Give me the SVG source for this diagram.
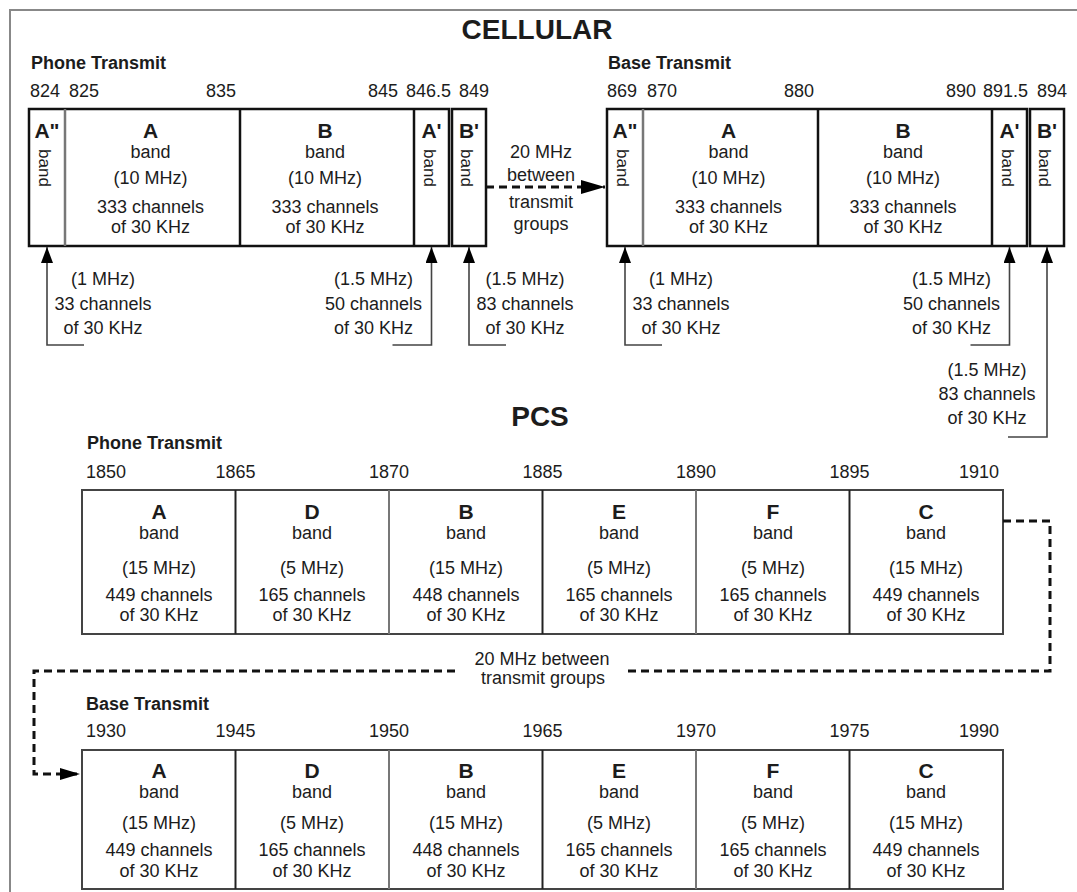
<svg xmlns="http://www.w3.org/2000/svg" width="1077" height="892" viewBox="0 0 1077 892">
<defs>
<style>
text{font-family:"Liberation Sans",Arial,Helvetica,sans-serif;fill:#1c1c1c}
.r{font-size:18px}
.m{font-size:18px;text-anchor:middle}
.h{font-size:18px;font-weight:bold}
.L{font-size:21px;font-weight:bold;text-anchor:middle}
.title{font-size:28px;font-weight:bold;text-anchor:middle}
.vb{font-size:17px;text-anchor:middle}
.e{text-anchor:end}
.box{fill:#fff;stroke:#111;stroke-width:2.5}
.dv{stroke:#111;stroke-width:2.5}
.dvg{stroke:#777;stroke-width:2.5}
.pbox{fill:#fff;stroke:#444;stroke-width:2}
.pdv{stroke:#222;stroke-width:2}
.pdvg{stroke:#777;stroke-width:2}
.lead{fill:none;stroke:#444;stroke-width:1.6}
.dash{fill:none;stroke:#111;stroke-width:3;stroke-dasharray:8 5}
.frame{fill:none;stroke:#888;stroke-width:2}
</style>
<marker id="up" markerUnits="userSpaceOnUse" markerWidth="17" markerHeight="12" refX="16" refY="6" orient="auto"><path d="M0,0 L16,6 L0,12 z" fill="#000"/></marker>
<marker id="ah" markerUnits="userSpaceOnUse" markerWidth="25" markerHeight="14" refX="24" refY="7" orient="auto"><path d="M0,0 L24,7 L0,14 z" fill="#000"/></marker>
<marker id="ah2" markerUnits="userSpaceOnUse" markerWidth="21" markerHeight="12" refX="20" refY="6" orient="auto"><path d="M0,0 L20,6 L0,12 z" fill="#000"/></marker>
</defs>
<rect width="1077" height="892" fill="#fff"/>
<path class="frame" d="M10,892 V10 H1077"/>

<text class="title" x="537" y="39">CELLULAR</text>
<text class="h" x="31" y="69">Phone Transmit</text>
<text class="h" x="608" y="69">Base Transmit</text>
<g id="cell-freq" class="r">
<text x="30" y="97">824</text><text x="69" y="97">825</text><text x="206" y="97">835</text>
<text x="368" y="97">845</text><text x="406" y="97">846.5</text><text x="459" y="97">849</text>
<text x="607" y="97">869</text><text x="647" y="97">870</text><text x="784" y="97">880</text>
<text x="946" y="97">890</text><text x="983" y="97">891.5</text><text x="1037" y="97">894</text>
</g>

<g id="cell-phone">
<rect class="box" x="29" y="109" width="420" height="137"/>
<rect class="box" x="452" y="109" width="34" height="137"/>
<line class="dvg" x1="65" y1="109" x2="65" y2="246"/>
<line class="dv" x1="240" y1="109" x2="240" y2="246"/>
<line class="dv" x1="414" y1="109" x2="414" y2="246"/>
<text class="L" x="47" y="138">A"</text>
<text class="vb" transform="translate(39,168) rotate(90)">band</text>
<text class="L" x="150.5" y="138">A</text>
<text class="m" x="150.5" y="158">band</text>
<text class="m" x="150.5" y="184">(10 MHz)</text>
<text class="m" x="150.5" y="213">333 channels</text>
<text class="m" x="150.5" y="233">of 30 KHz</text>
<text class="L" x="325" y="138">B</text>
<text class="m" x="325" y="158">band</text>
<text class="m" x="325" y="184">(10 MHz)</text>
<text class="m" x="325" y="213">333 channels</text>
<text class="m" x="325" y="233">of 30 KHz</text>
<text class="L" x="431.5" y="138">A'</text>
<text class="vb" transform="translate(423.5,168) rotate(90)">band</text>
<text class="L" x="469" y="138">B'</text>
<text class="vb" transform="translate(461,168) rotate(90)">band</text>
</g>

<g id="cell-base">
<rect class="box" x="607" y="109" width="420" height="137"/>
<rect class="box" x="1030" y="109" width="34" height="137"/>
<line class="dvg" x1="643" y1="109" x2="643" y2="246"/>
<line class="dv" x1="818" y1="109" x2="818" y2="246"/>
<line class="dv" x1="992" y1="109" x2="992" y2="246"/>
<text class="L" x="625" y="138">A"</text>
<text class="vb" transform="translate(617,168) rotate(90)">band</text>
<text class="L" x="728.5" y="138">A</text>
<text class="m" x="728.5" y="158">band</text>
<text class="m" x="728.5" y="184">(10 MHz)</text>
<text class="m" x="728.5" y="213">333 channels</text>
<text class="m" x="728.5" y="233">of 30 KHz</text>
<text class="L" x="903" y="138">B</text>
<text class="m" x="903" y="158">band</text>
<text class="m" x="903" y="184">(10 MHz)</text>
<text class="m" x="903" y="213">333 channels</text>
<text class="m" x="903" y="233">of 30 KHz</text>
<text class="L" x="1009.5" y="138">A'</text>
<text class="vb" transform="translate(1001.5,168) rotate(90)">band</text>
<text class="L" x="1047" y="138">B'</text>
<text class="vb" transform="translate(1039,168) rotate(90)">band</text>
</g>

<g id="cell-gap-label">
<text class="m" x="541" y="158">20 MHz</text>
<text class="m" x="541" y="181">between</text>
<text class="m" x="541" y="208">transmit</text>
<text class="m" x="541" y="230">groups</text>
</g>

<g id="cell-notes">
<text class="m" x="103" y="285">(1 MHz)</text><text class="m" x="103" y="310">33 channels</text><text class="m" x="103" y="334">of 30 KHz</text>
<text class="m" x="373.5" y="285">(1.5 MHz)</text><text class="m" x="373.5" y="310">50 channels</text><text class="m" x="373.5" y="334">of 30 KHz</text>
<text class="m" x="525" y="285">(1.5 MHz)</text><text class="m" x="525" y="310">83 channels</text><text class="m" x="525" y="334">of 30 KHz</text>
<text class="m" x="681" y="285">(1 MHz)</text><text class="m" x="681" y="310">33 channels</text><text class="m" x="681" y="334">of 30 KHz</text>
<text class="m" x="951.5" y="285">(1.5 MHz)</text><text class="m" x="951.5" y="310">50 channels</text><text class="m" x="951.5" y="334">of 30 KHz</text>
<text class="m" x="987" y="376">(1.5 MHz)</text><text class="m" x="987" y="400">83 channels</text><text class="m" x="987" y="424">of 30 KHz</text>
</g>

<text class="title" x="540" y="426">PCS</text>
<text class="h" x="87" y="449">Phone Transmit</text>
<g id="pcs-phone-freq" class="r">
<text x="86" y="478">1850</text>
<text class="m" x="235.5" y="478">1865</text>
<text class="m" x="389" y="478">1870</text>
<text class="m" x="542.5" y="478">1885</text>
<text class="m" x="696" y="478">1890</text>
<text class="m" x="849.5" y="478">1895</text>
<text class="e" x="999" y="478">1910</text>
</g>

<g id="pcs-phone">
<rect class="pbox" x="82" y="490" width="921" height="144"/>
<line class="pdv" x1="235.5" y1="490" x2="235.5" y2="634"/>
<line class="pdvg" x1="389" y1="490" x2="389" y2="634"/>
<line class="pdv" x1="542.5" y1="490" x2="542.5" y2="634"/>
<line class="pdvg" x1="696" y1="490" x2="696" y2="634"/>
<line class="pdv" x1="849.5" y1="490" x2="849.5" y2="634"/>
<text class="L" x="159" y="519">A</text><text class="m" x="159" y="539">band</text><text class="m" x="159" y="574">(15 MHz)</text><text class="m" x="159" y="601">449 channels</text><text class="m" x="159" y="621">of 30 KHz</text>
<text class="L" x="312" y="519">D</text><text class="m" x="312" y="539">band</text><text class="m" x="312" y="574">(5 MHz)</text><text class="m" x="312" y="601">165 channels</text><text class="m" x="312" y="621">of 30 KHz</text>
<text class="L" x="466" y="519">B</text><text class="m" x="466" y="539">band</text><text class="m" x="466" y="574">(15 MHz)</text><text class="m" x="466" y="601">448 channels</text><text class="m" x="466" y="621">of 30 KHz</text>
<text class="L" x="619" y="519">E</text><text class="m" x="619" y="539">band</text><text class="m" x="619" y="574">(5 MHz)</text><text class="m" x="619" y="601">165 channels</text><text class="m" x="619" y="621">of 30 KHz</text>
<text class="L" x="773" y="519">F</text><text class="m" x="773" y="539">band</text><text class="m" x="773" y="574">(5 MHz)</text><text class="m" x="773" y="601">165 channels</text><text class="m" x="773" y="621">of 30 KHz</text>
<text class="L" x="926" y="519">C</text><text class="m" x="926" y="539">band</text><text class="m" x="926" y="574">(15 MHz)</text><text class="m" x="926" y="601">449 channels</text><text class="m" x="926" y="621">of 30 KHz</text>
</g>

<g id="pcs-gap-label">
<text class="m" x="542" y="665">20 MHz between</text>
<text class="m" x="543" y="684">transmit groups</text>
</g>

<text class="h" x="86" y="710">Base Transmit</text>
<g id="pcs-base-freq" class="r">
<text x="86" y="737">1930</text>
<text class="m" x="235.5" y="737">1945</text>
<text class="m" x="389" y="737">1950</text>
<text class="m" x="542.5" y="737">1965</text>
<text class="m" x="696" y="737">1970</text>
<text class="m" x="849.5" y="737">1975</text>
<text class="e" x="999" y="737">1990</text>
</g>

<g id="pcs-base">
<rect class="pbox" x="82" y="750" width="921" height="139"/>
<line class="pdv" x1="235.5" y1="750" x2="235.5" y2="889"/>
<line class="pdvg" x1="389" y1="750" x2="389" y2="889"/>
<line class="pdv" x1="542.5" y1="750" x2="542.5" y2="889"/>
<line class="pdvg" x1="696" y1="750" x2="696" y2="889"/>
<line class="pdv" x1="849.5" y1="750" x2="849.5" y2="889"/>
<text class="L" x="159" y="778">A</text><text class="m" x="159" y="798">band</text><text class="m" x="159" y="829">(15 MHz)</text><text class="m" x="159" y="856">449 channels</text><text class="m" x="159" y="877">of 30 KHz</text>
<text class="L" x="312" y="778">D</text><text class="m" x="312" y="798">band</text><text class="m" x="312" y="829">(5 MHz)</text><text class="m" x="312" y="856">165 channels</text><text class="m" x="312" y="877">of 30 KHz</text>
<text class="L" x="466" y="778">B</text><text class="m" x="466" y="798">band</text><text class="m" x="466" y="829">(15 MHz)</text><text class="m" x="466" y="856">448 channels</text><text class="m" x="466" y="877">of 30 KHz</text>
<text class="L" x="619" y="778">E</text><text class="m" x="619" y="798">band</text><text class="m" x="619" y="829">(5 MHz)</text><text class="m" x="619" y="856">165 channels</text><text class="m" x="619" y="877">of 30 KHz</text>
<text class="L" x="773" y="778">F</text><text class="m" x="773" y="798">band</text><text class="m" x="773" y="829">(5 MHz)</text><text class="m" x="773" y="856">165 channels</text><text class="m" x="773" y="877">of 30 KHz</text>
<text class="L" x="926" y="778">C</text><text class="m" x="926" y="798">band</text><text class="m" x="926" y="829">(15 MHz)</text><text class="m" x="926" y="856">449 channels</text><text class="m" x="926" y="877">of 30 KHz</text>
</g>

<g id="connectors">
<path class="dash" d="M486,187 H605" marker-end="url(#ah)"/>
<path class="lead" d="M84,345 H47 V247" marker-end="url(#up)"/>
<path class="lead" d="M392.5,345 H431.5 V247" marker-end="url(#up)"/>
<path class="lead" d="M506,345 H469 V247" marker-end="url(#up)"/>
<path class="lead" d="M662,345 H625 V247" marker-end="url(#up)"/>
<path class="lead" d="M970.5,345 H1009.5 V247" marker-end="url(#up)"/>
<path class="lead" d="M1008,437 H1047 V247" marker-end="url(#up)"/>
<path class="dash" d="M1003,521 H1050 V671 H627"/>
<path class="dash" d="M455,671 H34 V774 H80" marker-end="url(#ah2)"/>
</g>
</svg>
